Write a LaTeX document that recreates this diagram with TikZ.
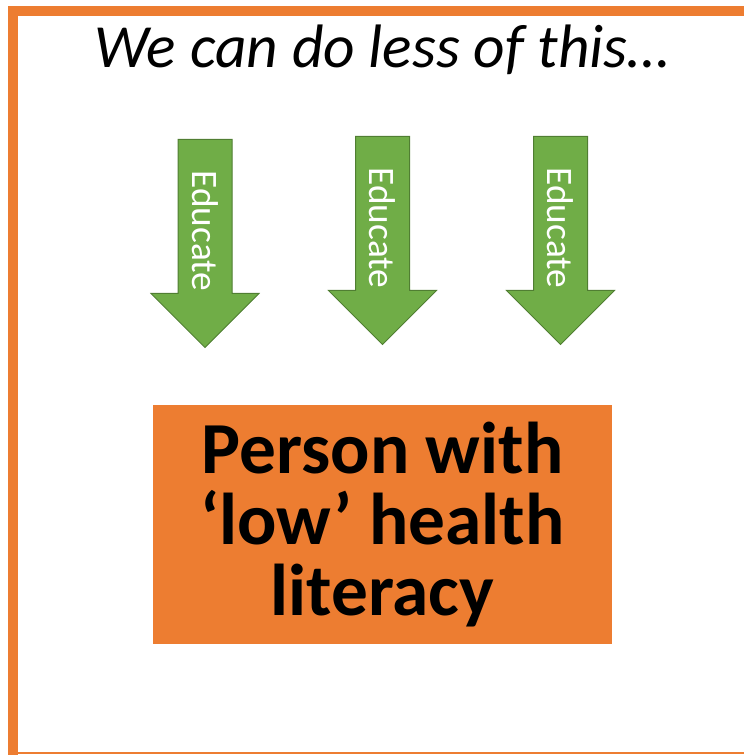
\documentclass[tikz,border=0pt]{standalone}
\usepackage{fontspec}
\setmainfont{Carlito}
\usetikzlibrary{shapes.arrows,calc}
\definecolor{slideorange}{HTML}{ED7D31}
\definecolor{arrowgreen}{HTML}{70AD47}
\definecolor{arrowedge}{HTML}{507E32}

\begin{document}
\begin{tikzpicture}[x=0.75pt, y=-0.75pt,
    downarrow/.style={single arrow, rotate=-90, anchor=tail, fill=arrowgreen,
      draw=arrowedge, line width=0.75pt, inner xsep=0pt, inner ysep=19.875pt,
      minimum height=156pt, single arrow head extend=20.25pt},
    arrowlabel/.style={rotate=-90, text=white, inner sep=0pt,
      font=\fontsize{28}{34}\selectfont}]
  \useasboundingbox (0, 0) rectangle (744, 755);
  % cropped frame
  \fill [slideorange] (8, 6) rectangle (744, 16);
  \fill [slideorange] (8, 6) rectangle (18, 755);
  \fill [slideorange] (18, 752) rectangle (744, 754);
  \node (title) [anchor=base, font=\fontsize{46}{55}\selectfont\itshape] at (382.5, 68) {We can do less of this…};
  \node (arrow1) [downarrow] at (205, 139) {};
  \node (arrow2) [downarrow] at (382.5, 136) {};
  \node (arrow3) [downarrow] at (560.5, 136) {};
  \node (edu1) [arrowlabel] at ($(arrow1.tail)+(0, 92)$) {Educate};
  \node (edu2) [arrowlabel] at ($(arrow2.tail)+(0, 92)$) {Educate};
  \node (edu3) [arrowlabel] at ($(arrow3.tail)+(0, 92)$) {Educate};
  \node (person) [fill=slideorange, minimum width=344.25pt, minimum height=179.25pt,
    inner sep=0pt, align=center, font=\fontsize{55}{53.6}\selectfont\bfseries]
    at (382.5, 524.5) {Person with\\‘low’ health\\literacy};
\end{tikzpicture}
\end{document}
